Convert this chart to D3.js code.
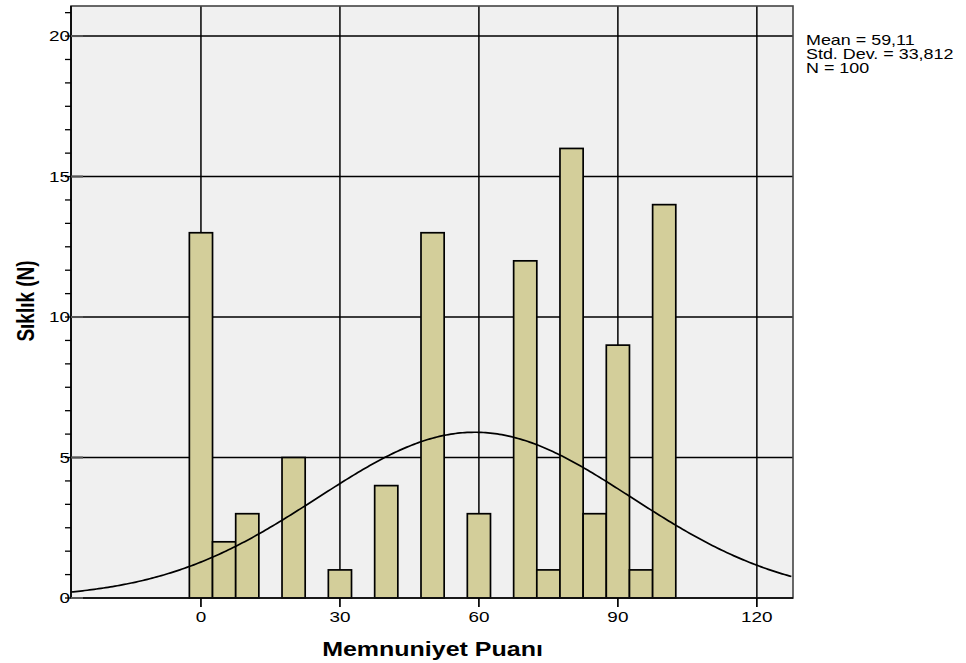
<!DOCTYPE html>
<html>
<head>
<meta charset="utf-8">
<script src="https://cdn.jsdelivr.net/npm/d3@7"></script>
<style>
body{margin:0;background:#fff;}
svg{display:block;font-family:"Liberation Sans",Arial,sans-serif;}
</style>
</head>
<body>
<svg id="c" width="966" height="663"></svg>
<script>
const binCenters = [0, 5, 10, 20, 30, 40, 50, 60, 70, 75, 80, 85, 90, 95, 100];
const counts     = [13, 2, 3, 5, 1, 4, 13, 3, 12, 1, 16, 3, 9, 1, 14];
const binWidth = 5;
const xTicks = [0, 30, 60, 90, 120];
const yTicks = [0, 5, 10, 15, 20];
const stats = {mean: 59.11, sd: 33.812, n: 100};
const legendLines = ["Mean = 59,11", "Std. Dev. = 33,812", "N = 100"];

const svg = d3.select("#c");
const L = 71, R = 793, T = 6, B = 598;
const x = d3.scaleLinear().domain([-28.05, 127.8]).range([L, R]);
const y = d3.scaleLinear().domain([0, 21.07]).range([B, T]);
const SX = 1.35; // horizontal text stretch of the original image

// background
svg.append("rect").attr("x", L).attr("y", T).attr("width", R - L).attr("height", B - T).attr("fill", "#f0f0f0");

// grid
svg.selectAll(".vg").data(xTicks).enter().append("line")
  .attr("x1", d => x(d)).attr("x2", d => x(d)).attr("y1", T).attr("y2", B)
  .attr("stroke", "#000").attr("stroke-width", 1.5);
svg.selectAll(".hg").data(yTicks.filter(d => d > 0)).enter().append("line")
  .attr("x1", L).attr("x2", R).attr("y1", d => y(d)).attr("y2", d => y(d))
  .attr("stroke", "#000").attr("stroke-width", 1.5);

// bars
svg.selectAll(".bar").data(binCenters).enter().append("rect")
  .attr("x", d => x(d - binWidth / 2)).attr("width", d => x(d + binWidth / 2) - x(d - binWidth / 2))
  .attr("y", (d, i) => y(counts[i])).attr("height", (d, i) => y(0) - y(counts[i]))
  .attr("fill", "#d3ce9a").attr("stroke", "#000").attr("stroke-width", 1.7);

// normal curve
const pdf = v => stats.n * binWidth / (stats.sd * Math.sqrt(2 * Math.PI)) * Math.exp(-0.5 * Math.pow((v - stats.mean) / stats.sd, 2));
const xs = d3.range(x.domain()[0], x.domain()[1] + 0.01, 0.5);
svg.append("path").datum(xs)
  .attr("d", d3.line().x(d => x(d)).y(d => y(pdf(d))))
  .attr("fill", "none").attr("stroke", "#000").attr("stroke-width", 1.7);

// frame
svg.append("rect").attr("x", L).attr("y", T).attr("width", R - L).attr("height", B - T)
  .attr("fill", "none").attr("stroke", "#444").attr("stroke-width", 1.6);
svg.append("line").attr("x1", L).attr("x2", L).attr("y1", T).attr("y2", B).attr("stroke", "#000").attr("stroke-width", 1.7);
svg.append("line").attr("x1", L).attr("x2", R).attr("y1", B).attr("y2", B).attr("stroke", "#000").attr("stroke-width", 1.7);

// y minor ticks (6 per 5 units)
const minor = d3.range(0, 21.07, 5 / 6);
svg.selectAll(".ymin").data(minor).enter().append("line")
  .attr("x1", L - 6).attr("x2", L).attr("y1", d => y(d)).attr("y2", d => y(d))
  .attr("stroke", "#000").attr("stroke-width", 1.3);
// y major ticks (inside, gray)
svg.selectAll(".ymaj").data(yTicks).enter().append("line")
  .attr("x1", L).attr("x2", L + 12).attr("y1", d => y(d)).attr("y2", d => y(d))
  .attr("stroke", "#555").attr("stroke-width", 2);
svg.selectAll(".ylab").data(yTicks).enter().append("text")
  .attr("transform", d => `translate(${L - 1},${y(d) + 5}) scale(${SX},1)`)
  .attr("text-anchor", "end").attr("font-size", 14).attr("fill", "#000").text(d => d);

// x ticks
svg.selectAll(".xt").data(xTicks).enter().append("line")
  .attr("x1", d => x(d)).attr("x2", d => x(d)).attr("y1", B).attr("y2", B + 9)
  .attr("stroke", "#000").attr("stroke-width", 1.7);
svg.selectAll(".xlab").data(xTicks).enter().append("text")
  .attr("transform", d => `translate(${x(d)},${B + 24}) scale(${SX},1)`)
  .attr("text-anchor", "middle").attr("font-size", 14).attr("fill", "#000").text(d => d);

// axis titles
svg.append("text").attr("transform", "translate(432.5,656) scale(1.25,1)").attr("text-anchor", "middle")
  .attr("font-size", 20).attr("font-weight", "bold").text("Memnuniyet Puanı");
svg.append("text").attr("transform", "translate(34,301) scale(1.3,1) rotate(-90)").attr("text-anchor", "middle")
  .attr("font-size", 19).attr("font-weight", "bold").text("Sıklık (N)");

// legend
svg.selectAll(".leg").data(legendLines).enter().append("text")
  .attr("transform", (d, i) => `translate(806,${45 + i * 14}) scale(1.28,1)`)
  .attr("font-size", 14).attr("fill", "#000").text(d => d);
</script>
</body>
</html>
